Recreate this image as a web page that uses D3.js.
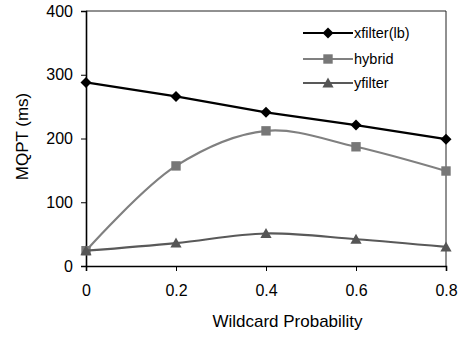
<!DOCTYPE html>
<html>
<head>
<meta charset="utf-8">
<script src="https://cdn.jsdelivr.net/npm/d3@7/dist/d3.min.js"></script>
<style>
  html, body { margin: 0; padding: 0; background: #fff; }
  svg text { font-family: "Liberation Sans", Arial, sans-serif; fill: #000; }
</style>
</head>
<body>
<svg id="chart" width="459" height="337"></svg>
<script>
// Wildcard probability on the x axis
const probabilities = [0, 0.2, 0.4, 0.6, 0.8];
// Mean query processing time (ms) per method
const xfilterLb = [288, 266, 241, 221, 199];
const hybrid = [24, 157, 212, 187, 149];
const yfilter = [24, 36, 51, 42, 30];
const yTicks = [0, 100, 200, 300, 400];
const xTickLabels = ["0", "0.2", "0.4", "0.6", "0.8"];

const series = [
  { name: "xfilter(lb)", values: xfilterLb, color: "#000000", marker: "diamond", smooth: false },
  { name: "hybrid", values: hybrid, color: "#808080", marker: "square", smooth: true },
  { name: "yfilter", values: yfilter, color: "#595959", marker: "triangle", smooth: true }
];

const svg = d3.select("#chart");
const margin = { left: 86, right: 13, top: 11, bottom: 71 };
const W = 459, H = 337;

const x = d3.scaleLinear().domain([0, 0.8]).range([margin.left, W - margin.right]);
const y = d3.scaleLinear().domain([0, 400]).range([H - margin.bottom, margin.top]);

// plot frame (top and right edges)
svg.append("path")
  .attr("d", `M${x(0)},${y(400)}H${x(0.8)}V${y(0)}`)
  .attr("fill", "none").attr("stroke", "#222").attr("stroke-width", 1);

// y axis
const yAxis = svg.append("g").attr("transform", `translate(${x(0)},0)`)
  .call(d3.axisLeft(y).tickValues(yTicks).tickSize(5).tickPadding(8).tickFormat(d3.format("d")));
yAxis.select(".domain").attr("stroke", "#000").attr("stroke-width", 1.6);
yAxis.selectAll(".tick line").attr("stroke", "#000");
yAxis.selectAll("text").style("font-size", "16px");

// x axis
const xAxis = svg.append("g").attr("transform", `translate(0,${y(0)})`)
  .call(d3.axisBottom(x).tickValues(probabilities).tickSize(5).tickPadding(14)
    .tickFormat((d, i) => xTickLabels[i]));
xAxis.select(".domain").attr("stroke", "#000").attr("stroke-width", 1.6);
xAxis.selectAll(".tick line").attr("stroke", "#000");
xAxis.selectAll("text").style("font-size", "16px");

// axis titles
svg.append("text")
  .attr("transform", `translate(28,${(y(0) + y(400)) / 2 - 2}) rotate(-90)`)
  .attr("text-anchor", "middle").style("font-size", "17px").text("MQPT (ms)");
svg.append("text")
  .attr("x", 287.5).attr("y", 327)
  .attr("text-anchor", "middle").style("font-size", "17px").text("Wildcard Probability");

// marker shapes: rotated-square diamond, square, triangle
const diamondType = { draw(ctx) { const r = 5.5; ctx.moveTo(0, -r); ctx.lineTo(r, 0); ctx.lineTo(0, r); ctx.lineTo(-r, 0); ctx.closePath(); } };
const squareType = { draw(ctx) { const h = 4.7; ctx.rect(-h, -h, 2 * h, 2 * h); } };
const triangleType = { draw(ctx) { ctx.moveTo(0, -5.5); ctx.lineTo(5.6, 4.5); ctx.lineTo(-5.6, 4.5); ctx.closePath(); } };
const symbolFor = {
  diamond: d3.symbol().type(diamondType),
  square: d3.symbol().type(squareType),
  triangle: d3.symbol().type(triangleType)
};
const markerColor = { diamond: "#000000", square: "#777777", triangle: "#555555" };

series.forEach(s => {
  const line = d3.line()
    .x((d, i) => x(probabilities[i]))
    .y(d => y(d))
    .curve(s.smooth ? d3.curveCatmullRom.alpha(0.5) : d3.curveLinear);
  svg.append("path").datum(s.values)
    .attr("d", line).attr("fill", "none")
    .attr("stroke", s.color).attr("stroke-width", 2.2);
  svg.append("g").selectAll("path").data(s.values).join("path")
    .attr("transform", (d, i) => `translate(${x(probabilities[i])},${y(d)})`)
    .attr("d", symbolFor[s.marker]())
    .attr("fill", markerColor[s.marker]);
});

// legend
const legend = svg.append("g");
const legendRows = [33, 59, 83];
series.forEach((s, i) => {
  const ly = legendRows[i];
  legend.append("line")
    .attr("x1", 303).attr("x2", 353).attr("y1", ly).attr("y2", ly)
    .attr("stroke", s.color).attr("stroke-width", 2.2);
  legend.append("path")
    .attr("transform", `translate(328,${ly})`)
    .attr("d", symbolFor[s.marker]())
    .attr("fill", markerColor[s.marker]);
  legend.append("text")
    .attr("x", 354).attr("y", ly).attr("dy", "0.35em")
    .style("font-size", "14.5px").text(s.name);
});
</script>
</body>
</html>
